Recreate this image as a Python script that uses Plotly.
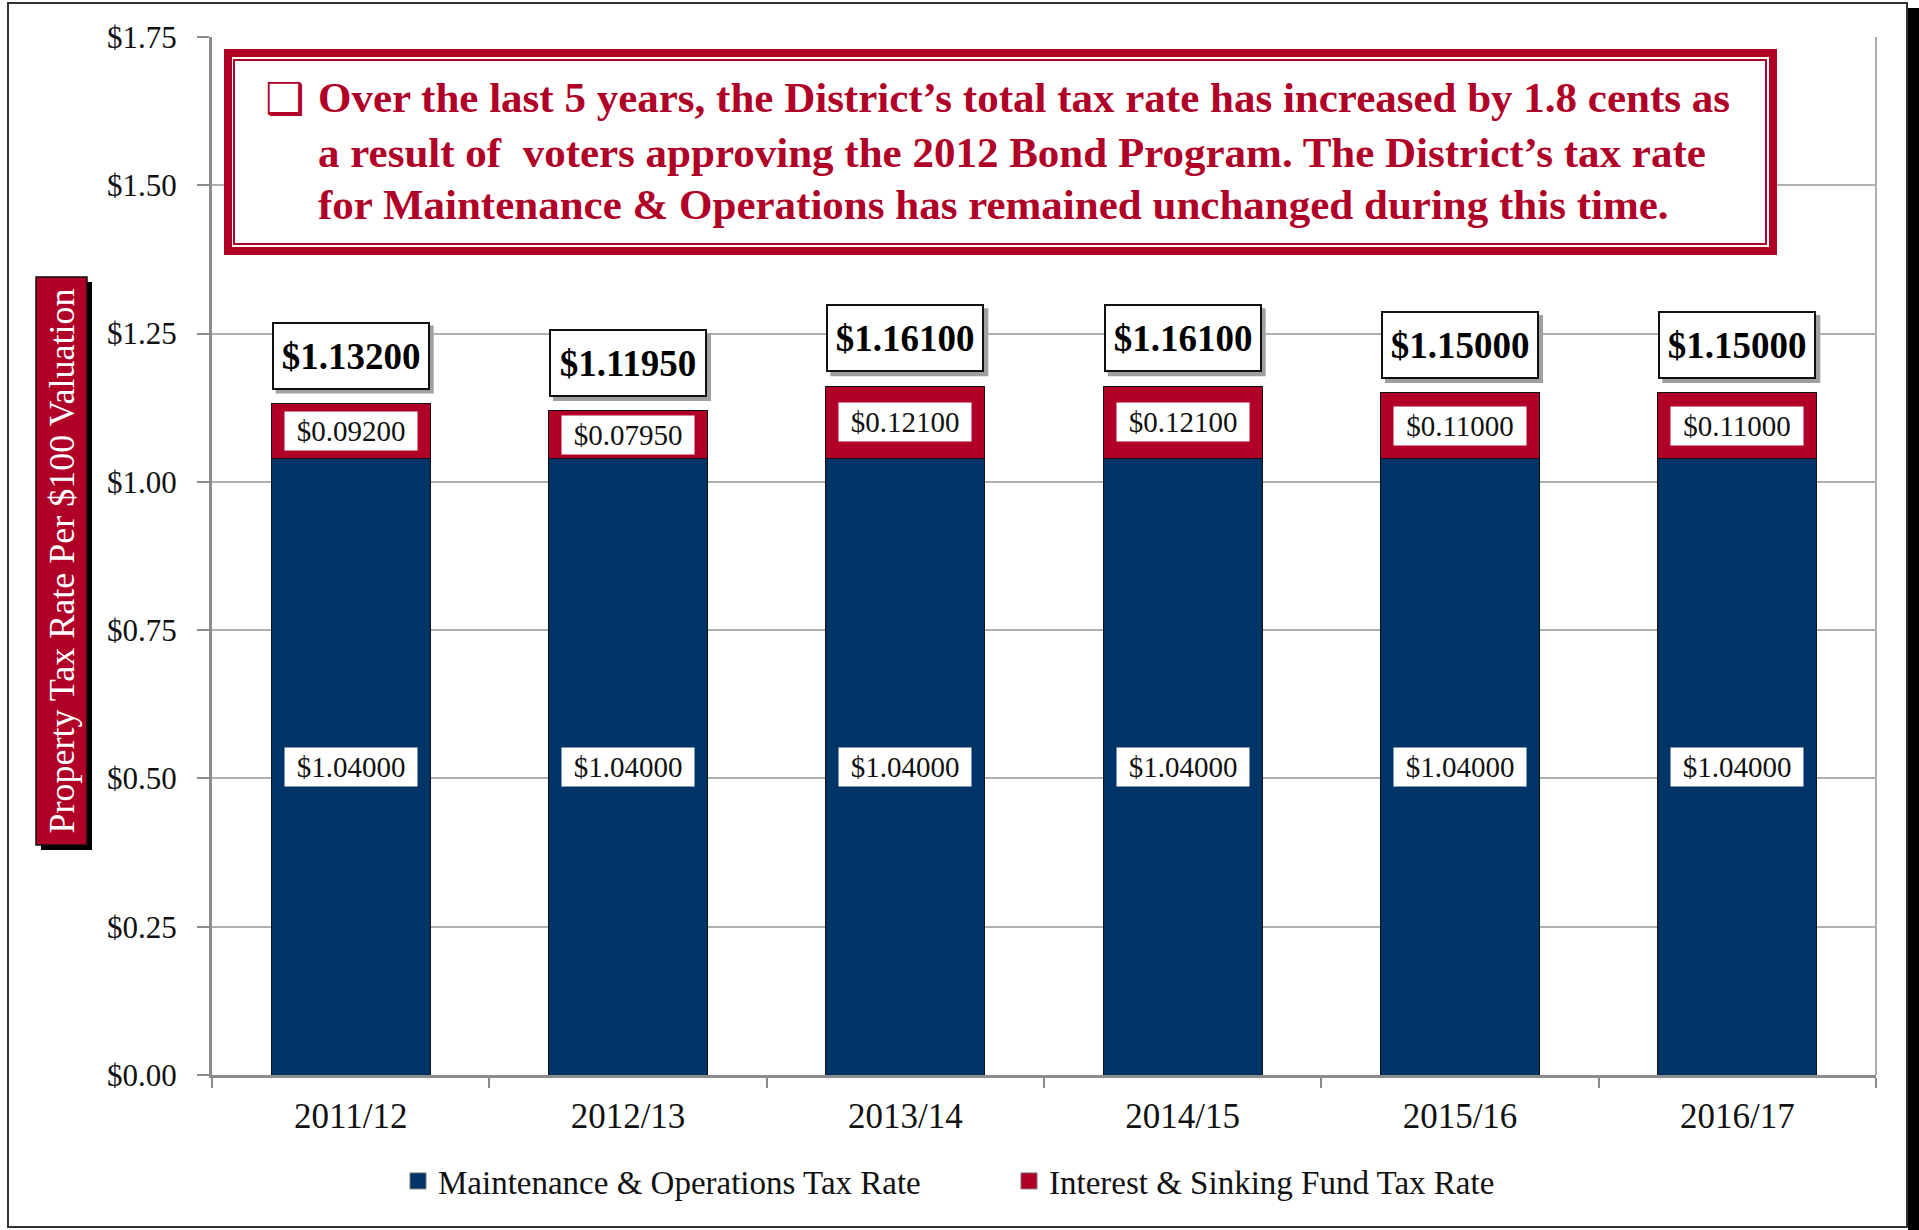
import plotly.graph_objects as go

# ---------------- data ----------------
years = ["2011/12", "2012/13", "2013/14", "2014/15", "2015/16", "2016/17"]
mo_rate = [1.04000, 1.04000, 1.04000, 1.04000, 1.04000, 1.04000]
is_rate = [0.09200, 0.07950, 0.12100, 0.12100, 0.11000, 0.11000]
total_rate = [1.13200, 1.11950, 1.16100, 1.16100, 1.15000, 1.15000]
y_ticks = [0.00, 0.25, 0.50, 0.75, 1.00, 1.25, 1.50, 1.75]
series_names = ["Maintenance & Operations Tax Rate", "Interest & Sinking Fund Tax Rate"]
title_lines = [
    "Over the last 5 years, the District\u2019s total tax rate has increased by 1.8 cents as",
    "a result of  voters approving the 2012 Bond Program. The District\u2019s tax rate",
    "for Maintenance & Operations has remained unchanged during this time.",
]
y_title = "Property Tax Rate Per $100 Valuation"

# ---------------- style ----------------
NAVY = "#003366"
RED = "#B00028"
SERIF = "Liberation Serif"
W, H = 1919, 1230
L, R, T, B = 212, 1876, 37, 1075


def px(x):
    return (x - L) / (R - L)


def py(y):
    return (B - y) / (B - T)


fig = go.Figure()
fig.add_bar(x=years, y=mo_rate, name=series_names[0], showlegend=False,
            marker=dict(color=NAVY, line=dict(color="#111111", width=1)), hoverinfo="skip")
fig.add_bar(x=years, y=is_rate, name=series_names[1], showlegend=False,
            marker=dict(color=RED, line=dict(color="#111111", width=1)), hoverinfo="skip")
# legend entries with square markers
for nm, col in zip(series_names, [NAVY, RED]):
    fig.add_scatter(x=[None], y=[None], mode="markers", name=nm,
                    marker=dict(symbol="square", size=20, color=col,
                                line=dict(color="#777777", width=1)))

annotations = []
shapes = []
for yr, mo, isr, tot in zip(years, mo_rate, is_rate, total_rate):
    # M&O label
    annotations.append(dict(x=yr, y=mo / 2, xref="x", yref="y", text=f"${mo:.5f}",
                            showarrow=False, bgcolor="white", borderpad=3, width=126,
                            font=dict(family=SERIF, size=29, color="#111111")))
    # I&S label
    annotations.append(dict(x=yr, y=mo + isr / 2, xref="x", yref="y", text=f"${isr:.5f}",
                            showarrow=False, bgcolor="white", borderpad=3, width=126,
                            font=dict(family=SERIF, size=29, color="#111111")))
    # total label shadow (drawn as a shape anchored to the bar top)
    shapes.append(dict(type="rect", xref="x", yref="y", xsizemode="pixel", ysizemode="pixel",
                       xanchor=yr, yanchor=tot, x0=-75, x1=83, y0=10, y1=78,
                       fillcolor="#A0A0A0", line=dict(width=0), layer="above"))
    # total label
    annotations.append(dict(x=yr, y=tot, xref="x", yref="y", text=f"<b>${tot:.5f}</b>",
                            showarrow=False, bgcolor="white", bordercolor="#111111",
                            borderwidth=2, borderpad=2, width=150, height=60,
                            yshift=48,
                            font=dict(family=SERIF, size=37, color="#000000")))

# title box text
annotations.append(dict(x=px(263), y=py(99), xref="paper", yref="paper", text="\u2751",
                        showarrow=False, xanchor="left", yanchor="middle",
                        font=dict(family="DejaVu Sans", size=44, color=RED)))
for ln, yc in zip(title_lines, [98, 152, 204]):
    annotations.append(dict(x=px(316), y=py(yc), xref="paper", yref="paper",
                            text=f"<b>{ln}</b>", showarrow=False, xanchor="left",
                            yanchor="middle",
                            font=dict(family=SERIF, size=43, color=RED)))
# y-axis title
annotations.append(dict(x=px(61.5), y=py(561), xref="paper", yref="paper", text=y_title,
                        showarrow=False, textangle=-90, xanchor="center", yanchor="middle",
                        font=dict(family=SERIF, size=36, color="white")))

shapes += [
    # outer frame
    dict(type="rect", xref="paper", yref="paper", x0=px(8), x1=px(1907), y0=py(3), y1=py(1227),
         line=dict(color="#333333", width=2)),
    dict(type="rect", xref="paper", yref="paper", x0=px(1908), x1=px(1919), y0=py(8), y1=py(1230),
         fillcolor="black", line=dict(width=0)),
    # right border of plot area
    dict(type="line", xref="paper", yref="paper", x0=1, x1=1, y0=0, y1=1,
         line=dict(color="#AEAEAE", width=2)),
    # title box
    dict(type="rect", xref="paper", yref="paper", x0=px(228), x1=px(1773), y0=py(53), y1=py(251),
         fillcolor="white", line=dict(color=RED, width=8), layer="above"),
    dict(type="rect", xref="paper", yref="paper", x0=px(234), x1=px(1766), y0=py(60), y1=py(244),
         line=dict(color=RED, width=2), layer="above"),
    # y-title box with shadow
    dict(type="rect", xref="paper", yref="paper", x0=px(41), x1=px(92), y0=py(282), y1=py(850),
         fillcolor="black", line=dict(width=0)),
    dict(type="rect", xref="paper", yref="paper", x0=px(36), x1=px(87), y0=py(277), y1=py(845),
         fillcolor=RED, line=dict(color="#111111", width=1.5)),
]

fig.update_layout(
    width=W, height=H,
    margin=dict(l=L, r=W - R, t=T, b=H - B, pad=0),
    paper_bgcolor="white", plot_bgcolor="white",
    barmode="stack", bargap=0.427,
    font=dict(family=SERIF, color="#111111"),
    xaxis=dict(type="category", showgrid=False, showline=True, linecolor="#8C8C8C", linewidth=3,
               ticks="outside", tickson="boundaries", ticklen=10, tickwidth=2, tickcolor="#8C8C8C",
               ticklabelstandoff=8,
               tickfont=dict(family=SERIF, size=35, color="#111111"), fixedrange=True),
    yaxis=dict(range=[0, 1.75], tickvals=y_ticks, ticktext=[f"${v:.2f}" for v in y_ticks],
               showgrid=True, gridcolor="#B0B0B0", gridwidth=1.5, zeroline=False,
               showline=True, linecolor="#8C8C8C", linewidth=3,
               ticks="outside", ticklen=12, tickwidth=2, tickcolor="#8C8C8C",
               ticklabelstandoff=14,
               tickfont=dict(family=SERIF, size=31, color="#111111"), fixedrange=True),
    legend=dict(orientation="h", traceorder="normal",
                xref="container", yref="container", x=398 / W, xanchor="left",
                y=1 - 1181 / H, yanchor="middle",
                font=dict(family=SERIF, size=33, color="#111111"),
                itemwidth=30, entrywidth=566, entrywidthmode="pixels",
                bgcolor="rgba(0,0,0,0)"),
    annotations=annotations,
    shapes=shapes,
    hovermode=False,
)

fig.write_html("out.html", post_script="document.body.style.margin='0';",
               config={"displayModeBar": False})
